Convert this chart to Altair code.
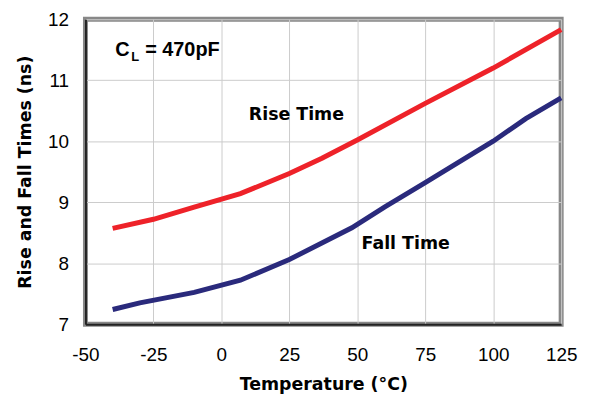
import altair as alt
import pandas as pd

rise_temp = [-40, -25, -10, 7, 25, 37, 50, 75, 100, 125]
rise_ns = [8.57, 8.72, 8.92, 9.14, 9.47, 9.72, 10.02, 10.62, 11.20, 11.83]
fall_temp = [-40, -30, -10, 7, 25, 48, 60, 75, 100, 112, 125]
fall_ns = [7.24, 7.35, 7.52, 7.72, 8.06, 8.58, 8.92, 9.32, 10.00, 10.37, 10.71]

x_ticks = [-50, -25, 0, 25, 50, 75, 100, 125]
y_ticks = [7, 8, 9, 10, 11, 12]

label_text = ["Rise Time", "Fall Time"]
label_x = [27.6, 67.8]
label_y = [10.35, 8.23]

cl_x = [-39.0]
cl_y = [11.40]

rise = pd.DataFrame({"t": rise_temp, "v": rise_ns})
fall = pd.DataFrame({"t": fall_temp, "v": fall_ns})
labels = pd.DataFrame({"t": label_x, "v": label_y, "s": label_text})
cl = pd.DataFrame({"t": cl_x, "v": cl_y})

FONT = "Liberation Sans"
TFONT = "DejaVu Sans"

xs = alt.X("t:Q", scale=alt.Scale(domain=[-50, 125], nice=False),
           axis=alt.Axis(values=x_ticks, title="Temperature (°C)",
                         labelExpr="'' + datum.value", labelFlush=False,
                         labelFontSize=19, labelFont=FONT, labelColor="#000",
                         titleFont=TFONT, titleFontSize=17.5, titleFontWeight="bold",
                         titleColor="#000", titlePadding=11,
                         ticks=False, labelPadding=22,
                         domainColor="#222", domainWidth=2,
                         gridColor="#cccccc", gridWidth=1))
ys = alt.Y("v:Q", scale=alt.Scale(domain=[7, 12], nice=False),
           axis=alt.Axis(values=y_ticks, title="Rise and Fall Times (ns)",
                         labelExpr="'' + datum.value", labelFlush=False,
                         labelFontSize=19, labelFont=FONT, labelColor="#000",
                         titleFont=TFONT, titleFontSize=17.5, titleFontWeight="bold",
                         titleColor="#000", titlePadding=13,
                         ticks=False, labelPadding=17,
                         domainColor="#222", domainWidth=2,
                         gridColor="#cccccc", gridWidth=1))

rise_line = alt.Chart(rise).mark_line(color="#EE2229", strokeWidth=5).encode(x=xs, y=ys)
fall_line = alt.Chart(fall).mark_line(color="#2A2A7C", strokeWidth=5).encode(x="t:Q", y="v:Q")

txt = alt.Chart(labels).mark_text(font=TFONT, fontSize=17.5, fontWeight="bold",
                                  color="#000", align="center", baseline="alphabetic").encode(
    x="t:Q", y="v:Q", text="s:N")

c_txt = alt.Chart(cl).mark_text(font=FONT, fontSize=20, fontWeight="bold", color="#000",
                                align="left", baseline="alphabetic").encode(
    x="t:Q", y="v:Q", text=alt.value("C"))
l_txt = alt.Chart(cl).mark_text(font=FONT, fontSize=13, fontWeight="bold", color="#000",
                                align="left", baseline="alphabetic", dx=16, dy=5).encode(
    x="t:Q", y="v:Q", text=alt.value("L"))
eq_txt = alt.Chart(cl).mark_text(font=FONT, fontSize=20, fontWeight="bold", color="#000",
                                 align="left", baseline="alphabetic", dx=30).encode(
    x="t:Q", y="v:Q", text=alt.value("= 470pF"))

chart = alt.layer(rise_line, fall_line, txt, c_txt, l_txt, eq_txt).properties(
    width=479, height=307,
    autosize=alt.AutoSizeParams(type="none"),
    padding={"left": 78, "top": 10, "right": 22, "bottom": 70},
    background="white",
).configure_view(stroke="#888888", strokeWidth=5)

chart.save("out.html", embed_options={"renderer": "svg", "actions": False})
